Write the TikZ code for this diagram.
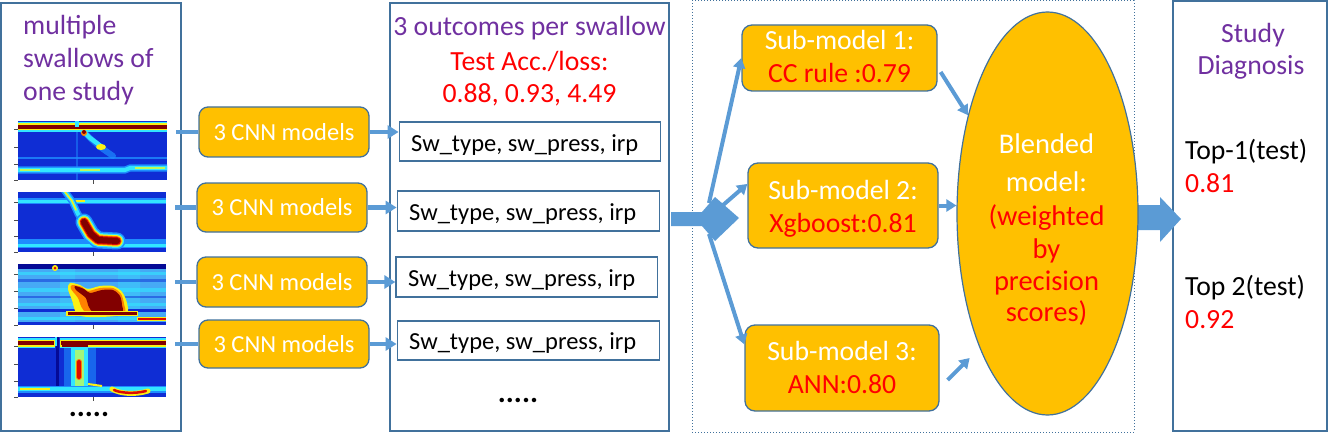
\documentclass[tikz,border=0pt]{standalone}
\usepackage{fontspec}
\setmainfont{Carlito}
\usetikzlibrary{arrows.meta,calc,shapes.geometric}
\definecolor{bord}{RGB}{65,113,156}
\definecolor{arr}{RGB}{91,155,213}
\definecolor{orng}{RGB}{255,192,0}
\definecolor{purp}{RGB}{112,48,160}
\definecolor{jbg}{RGB}{15,45,212}
\definecolor{jdk}{RGB}{5,10,150}
\definecolor{jlt}{RGB}{30,140,255}
\definecolor{jlb}{RGB}{70,170,245}
\definecolor{jcy}{RGB}{50,230,255}
\definecolor{jyl}{RGB}{250,240,20}
\definecolor{jyg}{RGB}{190,250,90}
\definecolor{jor}{RGB}{255,130,0}
\definecolor{jrd}{RGB}{220,10,0}
\definecolor{jdr}{RGB}{130,0,0}
\newcommand\myfa{\fontsize{27.7pt}{33pt}\selectfont}
\newcommand\myfb{\fontsize{24.5pt}{29pt}\selectfont}
\newcommand\myfc{\fontsize{28.5pt}{34pt}\selectfont}
\newcommand\myfd{\fontsize{30pt}{34pt}\selectfont\bfseries}
\begin{document}
\begin{tikzpicture}[x=1pt,y=-1pt,
  panelbox/.style={draw=bord,line width=1.5pt,inner sep=0pt},
  dotbox/.style={draw=bord,line width=1pt,dotted,inner sep=0pt},
  hmframe/.style={inner sep=0pt},
  cnnbox/.style={draw=bord,line width=1.3pt,fill=orng,rounded corners=9pt,inner sep=0pt,text=white,font=\myfb},
  swbox/.style={draw=bord,line width=1.4pt,fill=white,inner sep=0pt},
  subbox/.style={draw=bord,line width=1.3pt,fill=orng,rounded corners=10pt,inner sep=0pt},
  blend/.style={ellipse,draw=bord,line width=1.2pt,fill=orng,inner sep=0pt},
  txt/.style={inner sep=0pt,font=\myfa},
  swtxt/.style={inner sep=0pt,font=\myfb,anchor=base west},
  elltxt/.style={inner sep=0pt,font=\myfc,anchor=base},
  feedline/.style={draw=arr,line width=4.5pt},
  feedarrow/.style={draw=arr,line width=4.5pt,-{Triangle[length=11pt,width=13pt]}},
  branch/.style={draw=arr,line width=4pt,-{Triangle[length=10pt,width=12pt]}},
  tick/.style={draw=black!70,line width=0.7pt},
  rl/.style={line cap=round,line join=round}
]
\useasboundingbox (0,0) rectangle (1328,433);

% ---------- panels ----------
\node[panelbox,minimum width=180pt,minimum height=428pt] (pL) at (91,217) {};
\node[panelbox,minimum width=279pt,minimum height=428pt] (pM) at (529.5,217) {};
\node[dotbox,minimum width=442pt,minimum height=431pt] (pD) at (913,216.5) {};
\node[panelbox,minimum width=154pt,minimum height=430pt] (pR) at (1250,216) {};

% ---------- left title ----------
\node[txt,text=purp,anchor=base west] (lt1) at (23,35) {multiple};
\node[txt,text=purp,anchor=base west] (lt2) at (23,68) {swallows of};
\node[txt,text=purp,anchor=base west] (lt3) at (23,101) {one study};

% ---------- heatmap 1 ----------
\begin{scope}
\clip (18,121) rectangle (167,180);
\fill[jbg] (18,121) rectangle (167,180);
\draw[jlt,line width=2pt,opacity=.5] (77,121) -- (77,180);
\draw[jlt,line width=2pt,opacity=.8] (18,158) -- (167,158);
\draw[jlt,line width=7pt] (18,170) -- (125,170) -- (130,168) -- (167,168);
\draw[jcy,line width=4pt] (18,170) -- (125,170) -- (130,168) -- (167,168);
\draw[jyg,line width=1.5pt] (20,170) -- (40,170) (80,170) -- (100,170) (135,168) -- (165,168);
\draw[jlt,line width=6pt,rl,opacity=.7] (80,128) -- (90,138) -- (100,147) -- (113,156);
\draw[jcy,line width=4.5pt,rl] (80,128) -- (90,138) -- (102,147);
\fill[jyl] (101,147) ellipse (5 and 3);
\draw[jcy,line width=10pt] (18,127) -- (167,127);
\draw[jyl,line width=7pt] (18,127) -- (167,127);
\draw[jdr,line width=4.5pt] (18,127) -- (167,127);
\draw[jcy,line width=4pt] (77,121) -- (77,127);
\fill[jor] (84,133) circle (3);
\fill[jdr] (84,132) circle (2);
\end{scope}
\node[hmframe,minimum width=149pt,minimum height=59pt] (hm1) at (92.5,150.5) {};
\draw[tick] (14,129) -- (18,129) (14,147) -- (18,147) (14,164) -- (18,164) (14,180) -- (18,180) (93,180) -- (93,184);

% ---------- heatmap 2 ----------
\begin{scope}
\clip (18,192) rectangle (166,252);
\fill[jbg] (18,192) rectangle (166,252);
\draw[jlt,line width=3pt] (18,240) -- (166,240);
\draw[jlt,line width=6pt] (18,245) -- (166,245);
\draw[jcy,line width=3pt] (18,245) -- (166,245);
\draw[jlt,line width=6pt] (18,201) -- (166,201);
\draw[jcy,line width=3pt] (18,201) -- (166,201);
\draw[jyl,line width=2pt] (68,201) -- (85,201);
\draw[jlt,line width=7pt,rl] (64,190) -- (72,201) -- (78,214) -- (83,222);
\draw[jcy,line width=4pt,rl] (64,190) -- (72,201) -- (78,214) -- (83,222);
\draw[jyl,line width=1.5pt,rl] (65,192) -- (72,201) -- (76,210);
\draw[jlt,line width=17pt,rl] (84,222) -- (91,234) -- (98,240) -- (117,241);
\draw[jcy,line width=14pt,rl] (84,222) -- (91,234) -- (98,240) -- (117,241);
\draw[jyl,line width=11.5pt,rl] (84,222) -- (91,234) -- (98,240) -- (117,241);
\draw[jor,line width=9.5pt,rl] (84,222) -- (91,234) -- (98,240) -- (117,241);
\draw[jrd,line width=8pt,rl] (84,222) -- (91,234) -- (98,240) -- (117,241);
\draw[jdr,line width=6pt,rl] (84,222) -- (91,234) -- (98,240) -- (117,241);
\end{scope}
\node[hmframe,minimum width=148pt,minimum height=60pt] (hm2) at (92,222) {};
\draw[tick] (14,202) -- (18,202) (14,220) -- (18,220) (14,236) -- (18,236) (14,252) -- (18,252) (93,252) -- (93,256);

% ---------- heatmap 3 ----------
\begin{scope}
\clip (18,264) rectangle (166,325);
\fill[jlb] (18,264) rectangle (166,325);
\fill[jcy,opacity=.3] (60,264) rectangle (75,325) (118,264) rectangle (140,325);
\draw[jdk,line width=6pt] (18,266) -- (166,266);
\draw[jcy,opacity=.6,line width=3pt] (18,273) -- (166,273);
\draw[jbg,opacity=.5,line width=3pt] (18,280) -- (166,280);
\draw[jcy,opacity=.6,line width=4pt] (18,290) -- (166,290);
\draw[jbg,opacity=.5,line width=2pt] (18,297) -- (166,297);
\draw[jcy,opacity=.6,line width=3pt] (18,304) -- (166,304);
\draw[jbg,line width=3pt] (18,310) -- (166,310);
\draw[jcy,opacity=.7,line width=3pt] (18,318) -- (166,318);
\draw[jbg,line width=3pt] (18,323) -- (166,323);
\fill[jyl] plot[smooth cycle] coordinates {(70,283) (80,285) (88,289) (100,286) (113,286) (122,292) (127,303) (126,314) (100,317) (78,315) (72,300) (68,289)};
\fill[jor] plot[smooth cycle] coordinates {(72,285) (82,287) (88,291) (100,288) (113,288) (121,294) (124,304) (123,313) (90,314) (82,308) (78,298) (71,289)};
\fill[jdr] plot[smooth cycle] coordinates {(75,286) (84,289) (90,293) (102,290) (113,290) (120,296) (122,305) (121,312) (95,313) (88,305) (86,298) (76,290)};
\draw[jyl,line width=5pt] (66,313) -- (138,313);
\draw[jdr,line width=3pt] (68,313) -- (137,313);
\draw[jyl,line width=4pt] (137,319) -- (166,319);
\draw[jrd,line width=2.5pt] (138,319) -- (166,319);
\fill[jyl] (55,268) circle (3);
\fill[jrd] (55,268) circle (1.5);
\end{scope}
\node[hmframe,minimum width=148pt,minimum height=61pt] (hm3) at (92,294.5) {};
\draw[tick] (14,274) -- (18,274) (14,291) -- (18,291) (14,308) -- (18,308) (14,325) -- (18,325) (93,325) -- (93,329);

% ---------- heatmap 4 ----------
\begin{scope}
\clip (18,337) rectangle (166,397);
\fill[jbg] (18,337) rectangle (166,397);
\fill[jlt,opacity=.6] (64,345) rectangle (96,392);
\fill[jcy] (71,347) rectangle (88,389);
\fill[jyg,opacity=.8] (75,350) rectangle (84,386);
\draw[jor,line width=6pt,rl] (79,362) -- (79,377);
\draw[jrd,line width=4pt,rl] (79,362) -- (79,377);
\draw[jdk,line width=3pt] (57,337) -- (57,392);
\draw[jcy,line width=10pt] (18,343) -- (55,343) (60,343) -- (166,343);
\draw[jyl,line width=7pt] (18,343) -- (55,343) (60,343) -- (166,343);
\draw[jdr,line width=4.5pt] (18,343) -- (54,343) (61,343) -- (166,343);
\draw[jdr,line width=6pt] (62,344) -- (88,344);
\draw[jcy,line width=2pt] (56,337) -- (56,346);
\draw[jlt,line width=7pt] (18,389) -- (166,389);
\draw[jcy,line width=4pt] (18,389) -- (166,389);
\draw[jyl,line width=1.5pt] (20,389) -- (50,389);
\draw[jyl,line width=2pt] (88,384) -- (102,386);
\draw[jyl,line width=5pt,rl] (112,389) .. controls (120,394) and (135,395) .. (148,391);
\draw[jrd,line width=2.5pt,rl] (114,390) .. controls (120,393) and (135,394) .. (146,391);
\end{scope}
\node[hmframe,minimum width=148pt,minimum height=60pt] (hm4) at (92,367) {};
\draw[tick] (14,346) -- (18,346) (14,364) -- (18,364) (14,381) -- (18,381) (14,397) -- (18,397) (93,397) -- (93,401);

\node[inner sep=0pt,font=\myfd,anchor=base] (ldots) at (89,416) {.....};

% ---------- CNN boxes ----------
\node[cnnbox,minimum width=170pt,minimum height=50pt] (cnn1) at (284,132) {3 CNN models};
\node[cnnbox,minimum width=170pt,minimum height=49pt] (cnn2) at (282,207.5) {3 CNN models};
\node[cnnbox,minimum width=170pt,minimum height=50pt] (cnn3) at (282,282) {3 CNN models};
\node[cnnbox,minimum width=170pt,minimum height=48pt] (cnn4) at (284,344) {3 CNN models};

% ---------- middle panel ----------
\node[txt,text=purp,anchor=base] (mt1) at (529.5,36) {3 outcomes per swallow};
\node[txt,text=red,anchor=base] (mt2) at (529.5,71) {Test Acc./loss:};
\node[txt,text=red,anchor=base] (mt3) at (529.5,103) {0.88, 0.93, 4.49};

\node[swbox,minimum width=261.4pt,minimum height=39pt] (sw1) at (530,141.5) {};
\node[swbox,minimum width=262pt,minimum height=40pt] (sw2) at (528.3,211) {};
\node[swbox,minimum width=261.3pt,minimum height=40pt] (sw3) at (526.7,277) {};
\node[swbox,minimum width=262pt,minimum height=39pt] (sw4) at (528.3,340.5) {};
\node[swtxt] (swt1) at (411,152) {Sw\_type, sw\_press, irp};
\node[swtxt] (swt2) at (409,220) {Sw\_type, sw\_press, irp};
\node[swtxt] (swt3) at (408,286) {Sw\_type, sw\_press, irp};
\node[swtxt] (swt4) at (409,349) {Sw\_type, sw\_press, irp};
\node[inner sep=0pt,font=\myfd,anchor=base] (mdots) at (518,402) {.....};

% ---------- left connectors ----------
\foreach \i in {1,2,3,4}{
  \draw[feedline,shorten <=9pt] (cnn\i.west -| hm\i.east) -- (cnn\i.west);
  \draw[feedarrow] (cnn\i.east) -- (cnn\i.east -| sw\i.west);
}

% ---------- big arrow into sub-models ----------
\fill[arr] (671,212) -- (702,212) -- (715,197) -- (739,218) -- (715,241) -- (702,226) -- (671,226) -- cycle;

% ---------- sub-models ----------
\node[subbox,minimum width=195pt,minimum height=66pt] (sm1) at (839.5,58) {};
\node[subbox,minimum width=190pt,minimum height=85pt] (sm2) at (843,205.5) {};
\node[subbox,minimum width=194pt,minimum height=86pt] (sm3) at (842,368) {};
\node[txt,text=white,anchor=base] (sm1a) at (839.5,50) {Sub-model 1:};
\node[txt,text=red,anchor=base] (sm1b) at (839.5,83) {CC rule :0.79};
\node[txt,text=white,anchor=base] (sm2a) at (843,199) {Sub-model 2:};
\node[txt,text=red,anchor=base] (sm2b) at (843,232) {Xgboost:0.81};
\node[txt,text=white,anchor=base] (sm3a) at (842,360) {Sub-model 3:};
\node[txt,text=red,anchor=base] (sm3b) at (842,393) {ANN:0.80};

\coordinate (dtop) at (709,203);
\coordinate (dmid) at (722,206);
\coordinate (dbot) at (709,234);
\draw[branch] (dtop) -- (sm1.west);
\draw[branch] (dmid) -- ($(sm2.north west)!0.25!(sm2.south west)$);
\draw[branch] (dbot) -- ($(sm3.north west)!0.23!(sm3.south west)$);

% ---------- right arrow (under ellipse) ----------
\fill[arr] (1136,205) -- (1160,205) -- (1160,197) -- (1181,219) -- (1160,242) -- (1160,230) -- (1136,230) -- cycle;

% ---------- blended model ----------
\node[blend,minimum width=181pt,minimum height=403pt] (bl) at (1047.5,213.5) {};
\node[elltxt,text=white] (b1) at (1046.5,153.3) {Blended};
\node[elltxt,text=white] (b2) at (1046.5,191.7) {model:};
\node[elltxt,text=red] (b3) at (1046.5,225) {(weighted};
\node[elltxt,text=red] (b4) at (1046.5,258.3) {by};
\node[elltxt,text=red] (b5) at (1046.5,290) {precision};
\node[elltxt,text=red] (b6) at (1046.5,321.7) {scores)};

\coordinate (s1o) at ($(sm1.east)+(3,14)$);
\coordinate (s3o) at ($(sm3.east)+(8,12)$);
\coordinate (s3e) at ($(sm3.east)+(30,-10)$);
\draw[branch] (s1o) -- (bl.129);
\draw[branch] (sm2.east) -- (sm2.east -| bl.west);
\draw[branch] (s3o) -- (s3e);

% ---------- right panel ----------
\node[txt,text=purp,anchor=base] (rt1) at (1253,43) {Study};
\node[txt,text=purp,anchor=base] (rt2) at (1251,75) {Diagnosis};
\node[txt,anchor=base west] (r1) at (1185,160) {Top-1(test)};
\node[txt,text=red,anchor=base west] (r2) at (1185,193) {0.81};
\node[txt,anchor=base west] (r3) at (1185,295) {Top 2(test)};
\node[txt,text=red,anchor=base west] (r4) at (1185,328) {0.92};
\end{tikzpicture}
\end{document}
